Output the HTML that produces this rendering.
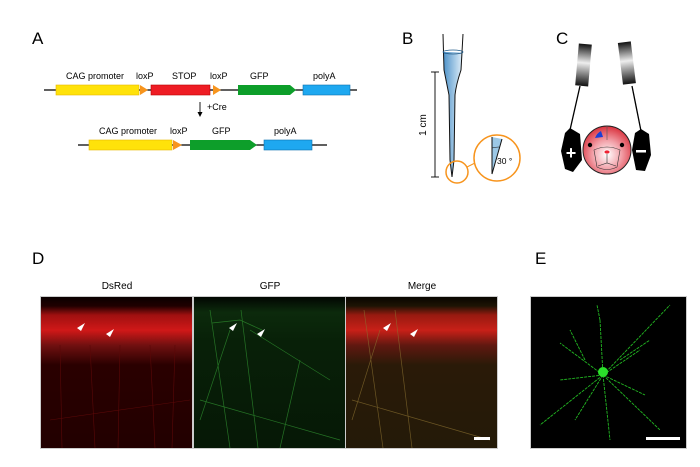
<!DOCTYPE html>
<html><head><meta charset="utf-8"><style>
html,body{margin:0;padding:0;background:#fff;width:700px;height:467px;overflow:hidden}
svg{display:block}
text{font-family:"Liberation Sans",sans-serif}
</style></head><body>
<svg width="700" height="467" viewBox="0 0 700 467" xmlns="http://www.w3.org/2000/svg">
<defs>
<linearGradient id="pip" x1="0" x2="1"><stop offset="0" stop-color="#4a90c8"/><stop offset="1" stop-color="#e4f1fa"/></linearGradient>
<linearGradient id="grip" x1="0" x2="0" y1="0" y2="1"><stop offset="0" stop-color="#111"/><stop offset="0.45" stop-color="#eee"/><stop offset="1" stop-color="#111"/></linearGradient>
<radialGradient id="head" cx="0.5" cy="0.6" r="0.6"><stop offset="0" stop-color="#fff"/><stop offset="0.5" stop-color="#f2a0a8"/><stop offset="1" stop-color="#d9303c"/></radialGradient>
<linearGradient id="rg" x1="0" x2="0" y1="0" y2="1">
<stop offset="0" stop-color="#0a0000"/><stop offset="0.06" stop-color="#200000"/><stop offset="0.12" stop-color="#a01010"/><stop offset="0.22" stop-color="#d01818"/><stop offset="0.32" stop-color="#701010"/><stop offset="0.45" stop-color="#2a0000"/><stop offset="1" stop-color="#220000"/></linearGradient>
<linearGradient id="gg" x1="0" x2="0" y1="0" y2="1">
<stop offset="0" stop-color="#020602"/><stop offset="0.1" stop-color="#0c2a0c"/><stop offset="0.3" stop-color="#082008"/><stop offset="1" stop-color="#061806"/></linearGradient>
<linearGradient id="mg" x1="0" x2="0" y1="0" y2="1">
<stop offset="0" stop-color="#080500"/><stop offset="0.06" stop-color="#1e1404"/><stop offset="0.12" stop-color="#981a10"/><stop offset="0.22" stop-color="#c82018"/><stop offset="0.32" stop-color="#601810"/><stop offset="0.45" stop-color="#2a1a08"/><stop offset="1" stop-color="#241a08"/></linearGradient>
</defs>
<text x="32" y="44" font-size="17">A</text>
<g font-size="9">
<line x1="44" y1="90" x2="357" y2="90" stroke="#000" stroke-width="1.2"/>
<rect x="56" y="85" width="83" height="10" fill="#ffe20a" stroke="#e8b800" stroke-width="0.6"/>
<polygon points="140,85 148,90 140,95" fill="#f7941d"/>
<rect x="151" y="85" width="59" height="10" fill="#ee1c24" stroke="#b00" stroke-width="0.6"/>
<polygon points="213,85 221,90 213,95" fill="#f7941d"/>
<polygon points="238,85 290,85 296,90 290,95 238,95" fill="#0d9e2a"/>
<rect x="303" y="85" width="47" height="10" fill="#1ea8f0" stroke="#0a70b0" stroke-width="0.6"/>
<text x="66" y="79">CAG promoter</text><text x="136" y="79">loxP</text>
<text x="172" y="79">STOP</text><text x="210" y="79">loxP</text>
<text x="250" y="79">GFP</text><text x="313" y="79">polyA</text>
<line x1="200" y1="102" x2="200" y2="114" stroke="#000" stroke-width="0.9"/>
<polygon points="197.5,112 202.5,112 200,117" fill="#000"/>
<text x="207" y="110">+Cre</text>
<line x1="78" y1="145" x2="327" y2="145" stroke="#000" stroke-width="1.2"/>
<rect x="89" y="140" width="83" height="10" fill="#ffe20a" stroke="#e8b800" stroke-width="0.6"/>
<polygon points="173,140 182,145 173,150" fill="#f7941d"/>
<polygon points="190,140 250,140 257,145 250,150 190,150" fill="#0d9e2a"/>
<rect x="264" y="140" width="48" height="10" fill="#1ea8f0" stroke="#0a70b0" stroke-width="0.6"/>
<text x="99" y="134">CAG promoter</text><text x="170" y="134">loxP</text>
<text x="212" y="134">GFP</text><text x="274" y="134">polyA</text>
</g>
<text x="402" y="44" font-size="17">B</text>
<path d="M443,52 L463,52 L461,70 Q456,85 455,95 L454,160 L452,176 L450,160 L449,95 Q447,85 444,70 Z" fill="url(#pip)"/>
<path d="M443,34 L444,70 Q447,85 449,95 L450,160 L452,177 M463,34 L461,70 Q456,85 455,95 L454,160 L452,177" fill="none" stroke="#111" stroke-width="1"/>
<ellipse cx="453" cy="52" rx="10" ry="2" fill="none" stroke="#1f5a88" stroke-width="0.8"/>
<line x1="435" y1="72" x2="435" y2="177" stroke="#000" stroke-width="0.9"/>
<line x1="431" y1="72" x2="439" y2="72" stroke="#000" stroke-width="0.9"/>
<line x1="431" y1="177" x2="439" y2="177" stroke="#000" stroke-width="0.9"/>
<text transform="translate(426,125) rotate(-90)" font-size="10" text-anchor="middle">1 cm</text>
<circle cx="457" cy="172" r="11" fill="none" stroke="#f7941d" stroke-width="1.5"/>
<line x1="467" y1="167" x2="475" y2="163" stroke="#f7941d" stroke-width="1"/>
<circle cx="497" cy="158" r="23" fill="#fff" stroke="#f7941d" stroke-width="1.5"/>
<path d="M492,137 L492,174 L502,139 Z" fill="#9cc8e6"/>
<path d="M492,137 L492,174 L502,139" fill="none" stroke="#111" stroke-width="1"/>
<path d="M492,148 Q496,147 499,147" fill="none" stroke="#111" stroke-width="0.6"/>
<text x="497" y="164" font-size="8.5">30 °</text>
<text x="556" y="44" font-size="17">C</text>
<g transform="rotate(5 584 65)"><rect x="577" y="44" width="13" height="42" fill="url(#grip)"/></g>
<g transform="rotate(-7 627 60)"><rect x="620" y="42" width="13" height="42" fill="url(#grip)"/></g>
<line x1="580" y1="86" x2="570" y2="130" stroke="#000" stroke-width="1.3"/>
<line x1="632" y1="86" x2="641" y2="131" stroke="#000" stroke-width="1.3"/>
<path d="M570,128 L580,134 L582,160 L573,172 L565,169 L561,151 L565,133 Z" fill="#000"/>
<path d="M641,129 L649,134 L651,155 L645,171 L636,170 L632,150 L635,133 Z" fill="#000"/>
<text x="571" y="159" font-size="18" fill="#fff" text-anchor="middle" font-weight="bold">+</text>
<rect x="636" y="150" width="10" height="2.5" fill="#fff"/>
<circle cx="607" cy="150" r="24" fill="url(#head)" stroke="#222" stroke-width="1"/>
<path d="M601,131 Q597,133 595,138 L603,137 Z" fill="#1a3fd6"/>
<line x1="607" y1="126" x2="607" y2="140" stroke="#555" stroke-width="0.6"/>
<circle cx="590" cy="145" r="2.2" fill="#000"/><circle cx="622" cy="145" r="2.2" fill="#000"/>
<path d="M594,150 Q607,144 620,150 L617,167 Q607,172 597,167 Z" fill="none" stroke="#333" stroke-width="0.6"/>
<ellipse cx="607" cy="152" rx="3" ry="2" fill="#e23" stroke="#fff" stroke-width="0.8"/>
<path d="M607,154 L607,163 M598,166 L607,163 L616,166" fill="none" stroke="#333" stroke-width="0.6"/>
<text x="32" y="264" font-size="17">D</text>
<text x="535" y="264" font-size="17">E</text>
<g font-size="10" text-anchor="middle"><text x="117" y="289">DsRed</text><text x="270" y="289">GFP</text><text x="422" y="289">Merge</text></g>
<rect x="40" y="296" width="458" height="153" fill="#ccc"/>
<rect x="41" y="297" width="151" height="151" fill="url(#rg)"/>
<rect x="194" y="297" width="151" height="151" fill="url(#gg)"/>
<rect x="346" y="297" width="151" height="151" fill="url(#mg)"/>
<g stroke="#5a0808" stroke-width="0.6" fill="none">
<path d="M60,345 L62,448 M90,345 L95,448 M120,345 L118,448 M150,345 L155,448 M175,345 L172,448 M50,420 L190,400"/>
</g>
<g stroke="#2d8a2d" stroke-width="0.7" fill="none" opacity="0.8">
<path d="M210,310 L230,448 M241,310 L258,448 M230,330 L200,420 M250,330 L330,380 M200,400 L340,440 M212,323 L240,320 L262,330 M300,360 L280,448"/>
</g>
<g stroke="#8a7030" stroke-width="0.7" fill="none" opacity="0.7">
<path d="M364,310 L383,448 M395,310 L412,448 M380,330 L352,420 M352,400 L490,440"/>
</g>
<g fill="#fff">
<polygon points="77,328 85,323 81,331"/><polygon points="106,334 114,329 110,337"/>
<polygon points="229,328 237,323 233,331"/><polygon points="257,334 265,329 261,337"/>
<polygon points="383,328 391,323 387,331"/><polygon points="410,334 418,329 414,337"/>
</g>
<rect x="474" y="437" width="16" height="3" fill="#fff"/>
<rect x="530" y="296" width="157" height="153" fill="#ccc"/>
<rect x="531" y="297" width="155" height="151" fill="#000"/>
<g stroke="#22b822" stroke-width="0.9" fill="none" stroke-dasharray="3 1">
<path d="M603,375 L670,305 M603,375 L560,343 M603,375 L575,420 M603,375 L610,440 M603,375 L645,395 M603,375 L560,380 M603,375 L600,320 M603,375 L640,350 M603,375 L540,425 M603,375 L660,430 M600,320 L597,305 M585,360 L570,330 M620,360 L650,340"/>
</g>
<circle cx="603" cy="372" r="5" fill="#2be02b"/>
<rect x="646" y="437" width="34" height="3" fill="#fff"/>
</svg>
</body></html>
